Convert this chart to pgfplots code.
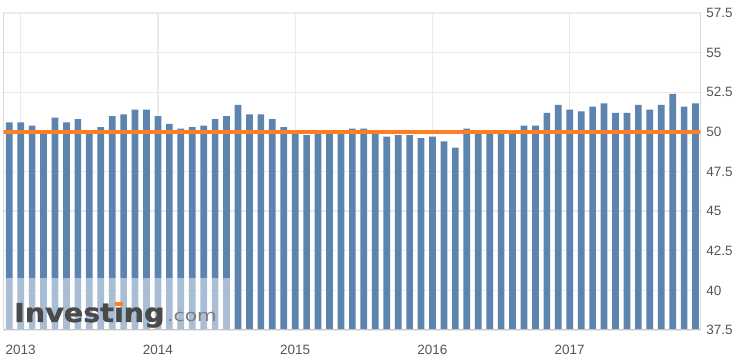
\documentclass[border=0pt]{standalone}
\usepackage{pgfplots}
\pgfplotsset{compat=1.18}
\usepackage{pgfplotstable}
\usepackage{fontspec}
\setmainfont{Liberation Sans}
\newfontfamily\logofont{DejaVu Sans}
\newfontfamily\logoheavy{DejaVu Sans Bold}[FakeBold=1.2]
\definecolor{barblue}{HTML}{5D83AF}
\definecolor{pmiorange}{HTML}{FF8024}
\definecolor{gridgray}{HTML}{EBEBEB}
\definecolor{ticktext}{HTML}{555555}
\definecolor{axisgray}{HTML}{C4C4C4}
\definecolor{logogray}{HTML}{4A4A4A}
\definecolor{comgray}{HTML}{7D7D7D}

\pgfplotstableread{
x y
0 50.6
1 50.6
2 50.4
3 50.1
4 50.9
5 50.6
6 50.8
7 50.1
8 50.3
9 51.0
10 51.1
11 51.4
12 51.4
13 51.0
14 50.5
15 50.2
16 50.3
17 50.4
18 50.8
19 51.0
20 51.7
21 51.1
22 51.1
23 50.8
24 50.3
25 50.1
26 49.8
27 49.9
28 50.1
29 50.1
30 50.2
31 50.2
32 50.0
33 49.7
34 49.8
35 49.8
36 49.6
37 49.7
38 49.4
39 49.0
40 50.2
41 50.1
42 50.1
43 50.0
44 49.9
45 50.4
46 50.4
47 51.2
48 51.7
49 51.4
50 51.3
51 51.6
52 51.8
53 51.2
54 51.2
55 51.7
56 51.4
57 51.7
58 52.4
59 51.6
60 51.8
}\pmidata

\begin{document}
\begin{tikzpicture}[x=1pt,y=1pt]
\path[use as bounding box] (0,0) rectangle (740,363);
\begin{axis}[
  at={(3.3pt,33pt)}, anchor=south west,
  scale only axis, width=697.4pt, height=317pt,
  xmin=-0.52, xmax=60.45, ymin=37.5, ymax=57.5,
  axis line style={draw=none},
  xtick={1,13,25,37,49}, xticklabels={2013,2014,2015,2016,2017},
  ytick={37.5,40,42.5,45,47.5,50,52.5,55,57.5},
  yticklabel pos=right,
  major tick length=0pt,
  xmajorgrids, ymajorgrids,
  grid style={gridgray, line width=1.3pt},
  tick label style={font=\fontsize{13.5}{16}\selectfont, text=ticktext},
  /pgf/number format/assume math mode=true,
  yticklabel style={anchor=west, inner sep=0pt, xshift=5.5pt},
  xticklabel style={anchor=north, inner sep=0pt, yshift=-15pt},
]
\addplot[ybar, bar width=0.585, fill=barblue, draw=none] table[x=x,y=y]{\pmidata};
\addplot[pmiorange, line width=3.3pt, forget plot] coordinates {(-0.52,50) (60.45,50)};
\draw[axisgray, line width=1pt] (rel axis cs:0,0) -- (rel axis cs:0,1);
\draw[axisgray, line width=1pt] (rel axis cs:1,0) -- (rel axis cs:1,1);
\draw[axisgray, line width=1pt] (rel axis cs:0,0) -- (rel axis cs:1,0);
\end{axis}
\fill[white, fill opacity=0.47] (3.8,33.5) rectangle (233,84.7);
\node[anchor=base west, inner sep=0pt, text=logogray] at (14,41)
  {\scalebox{1.1}[1]{\logoheavy\fontsize{26}{26}\selectfont Invest\ooalign{\i\cr\hidewidth\textcolor{pmiorange}{\rule[0.6em]{0.26em}{0.17em}}\hidewidth\cr}ng}};
\node[anchor=base west, inner sep=0pt, text=comgray] at (167,41)
  {\scalebox{1.23}[1]{\logofont\fontsize{16.5}{16.5}\selectfont .com}};
\end{tikzpicture}
\end{document}
